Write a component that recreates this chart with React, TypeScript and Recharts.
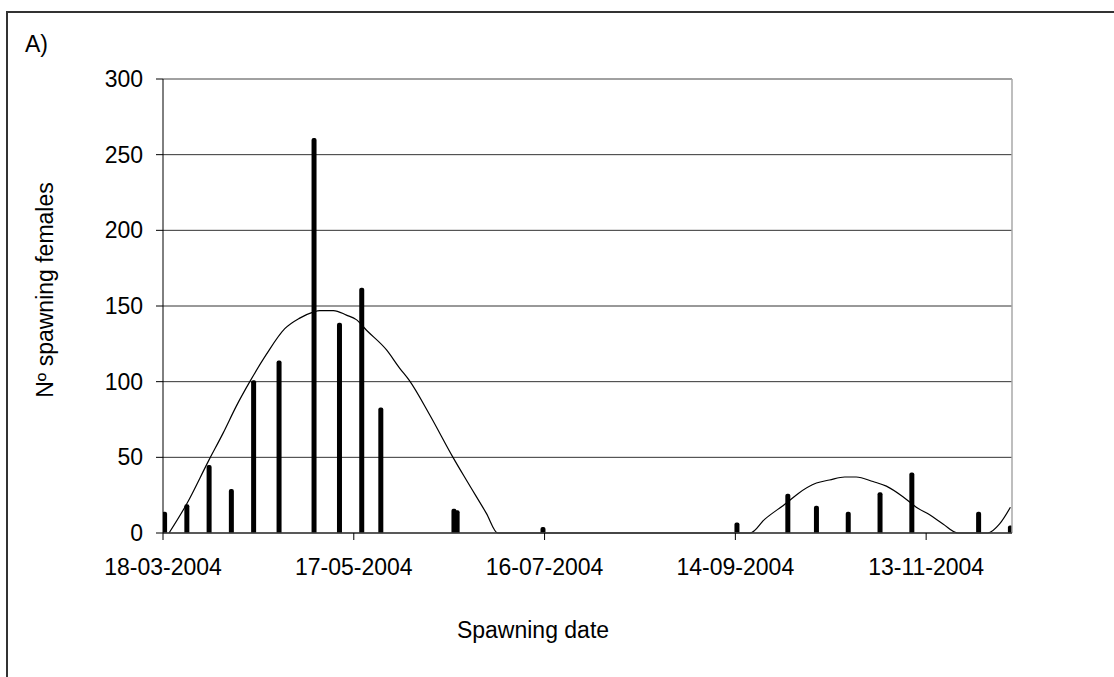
import React from 'react';
import { ComposedChart, Bar, Line, XAxis, YAxis, CartesianGrid, ReferenceLine } from 'recharts';

const FONT = '"Liberation Sans", Arial, Helvetica, sans-serif';

// Axis start date and tick labels
const START_DATE = '2004-03-18';
const xTickDays = [0, 60, 120, 180, 240];
const xTickLabels = ['18-03-2004', '17-05-2004', '16-07-2004', '14-09-2004', '13-11-2004'];
const yTicks = [0, 50, 100, 150, 200, 250, 300];

// Observed spawning events
const spawnDates = [
  '2004-03-18', '2004-03-25', '2004-04-01', '2004-04-08', '2004-04-15', '2004-04-23',
  '2004-05-04', '2004-05-12', '2004-05-19', '2004-05-25', '2004-06-17', '2004-06-18',
  '2004-07-15', '2004-09-14', '2004-09-30', '2004-10-09', '2004-10-19', '2004-10-29',
  '2004-11-08', '2004-11-29', '2004-12-09',
];
const spawningFemales = [14, 19, 45, 29, 101, 114, 261, 139, 162, 83, 16, 15, 4, 7, 26, 18, 14, 27, 40, 14, 5];

// Fitted curve (days after start date, value)
const fitDays = [
  1.9, 7.4, 14.4, 18.9, 23.1, 27.3, 32.5, 38.3, 43, 47.2,
  49.3, 53.6, 57.7, 60.8, 64, 70.3, 74.4, 77.4, 83.9, 91.2,
  95.4, 101.7, 105.3, 184.7, 189.2, 196.2, 199.7, 205.5, 209.6, 214.4,
  218, 223.3, 227.5, 232.7, 236.9, 241.1, 245.3, 250, 259.4, 263.1,
  266.5,
];
const fitValues = [
  0, 19, 48, 66, 84, 100, 118, 135, 142, 146,
  147, 147, 144, 141, 134, 121, 109, 101, 78, 50,
  35, 13, 0, 0, 9, 20, 26, 33, 35, 37,
  37, 34, 31, 24, 17, 12, 6, 0, 0, 6,
  17,
];

const DAY_MS = 86400000;
const dayIndex = (d: string) => Math.round((Date.parse(d) - Date.parse(START_DATE)) / DAY_MS);

const barData = spawnDates.map((d, i) => ({ x: dayIndex(d) + 0.5, count: spawningFemales[i] }));
const fitData = fitDays.map((d, i) => ({ x: d, fit: fitValues[i] }));

const tickStyle = { fill: '#000', fontSize: 23, fontFamily: FONT };

const BAR_W = 5;

// Draws a fixed-width rounded-top column centred on the slot Recharts computed
const ThickBar = (props: any) => {
  const { x, y, width, height } = props;
  if (height == null || !isFinite(height) || height <= 0) return null;
  const cx = x + width / 2;
  const left = cx - BAR_W / 2;
  const r = 2;
  const bottom = y + height;
  const d = `M${left},${bottom} L${left},${y + r} Q${left},${y} ${left + r},${y} L${left + BAR_W - r},${y} Q${left + BAR_W},${y} ${left + BAR_W},${y + r} L${left + BAR_W},${bottom} Z`;
  return <path d={d} fill="#000" />;
};

export default function App() {
  return (
    <div
      style={{
        position: 'absolute',
        left: 0,
        top: 0,
        width: 1114,
        height: 677,
        overflow: 'hidden',
        background: '#fff',
        fontFamily: FONT,
      }}
    >
      <div
        style={{
          position: 'absolute',
          left: 6,
          top: 11,
          width: 1300,
          height: 900,
          borderLeft: '2px solid #333',
          borderTop: '2px solid #333',
        }}
      />
      <div style={{ position: 'absolute', left: 0, top: 0 }}>
        <ComposedChart
          width={1114}
          height={677}
          data={barData}
          margin={{ top: 79, right: 102, bottom: 0, left: 0 }}
        >
          <CartesianGrid vertical={false} stroke="#333" strokeWidth={1} />
          <XAxis
            type="number"
            dataKey="x"
            domain={[0, 267]}
            allowDataOverflow
            ticks={xTickDays}
            interval={0}
            tickFormatter={(v: number) => xTickLabels[xTickDays.indexOf(v)] ?? ''}
            height={144}
            tickSize={7}
            tickMargin={19}
            axisLine={{ stroke: '#444', strokeWidth: 1.5 }}
            tickLine={{ stroke: '#000' }}
            tick={tickStyle}
          />
          <YAxis
            type="number"
            domain={[0, 300]}
            ticks={yTicks}
            interval={0}
            width={163}
            tickSize={7}
            tickMargin={13}
            axisLine={{ stroke: '#000' }}
            tickLine={{ stroke: '#000' }}
            tick={tickStyle}
          />
          <ReferenceLine y={300} stroke="#a8a8a8" strokeWidth={1} />
          <ReferenceLine x={267} stroke="#a8a8a8" strokeWidth={1.5} />
          <Bar dataKey="count" fill="#000" shape={<ThickBar />} isAnimationActive={false} />
          <Line
            data={fitData}
            dataKey="fit"
            type="monotone"
            stroke="#000"
            strokeWidth={1.2}
            dot={false}
            activeDot={false}
            isAnimationActive={false}
          />
        </ComposedChart>
      </div>
      <svg
        width={1114}
        height={677}
        style={{ position: 'absolute', left: 0, top: 0, pointerEvents: 'none' }}
      >
        <text x={25} y={51.5} fontSize={23} fontFamily={FONT} fill="#000">
          A)
        </text>
        <text x={533} y={637.5} fontSize={23} fontFamily={FONT} fill="#000" textAnchor="middle">
          Spawning date
        </text>
        <text
          x={53}
          y={290}
          fontSize={23}
          fontFamily={FONT}
          fill="#000"
          textAnchor="middle"
          transform="rotate(-90, 53, 290)"
        >
          Nº spawning females
        </text>
      </svg>
    </div>
  );
}
